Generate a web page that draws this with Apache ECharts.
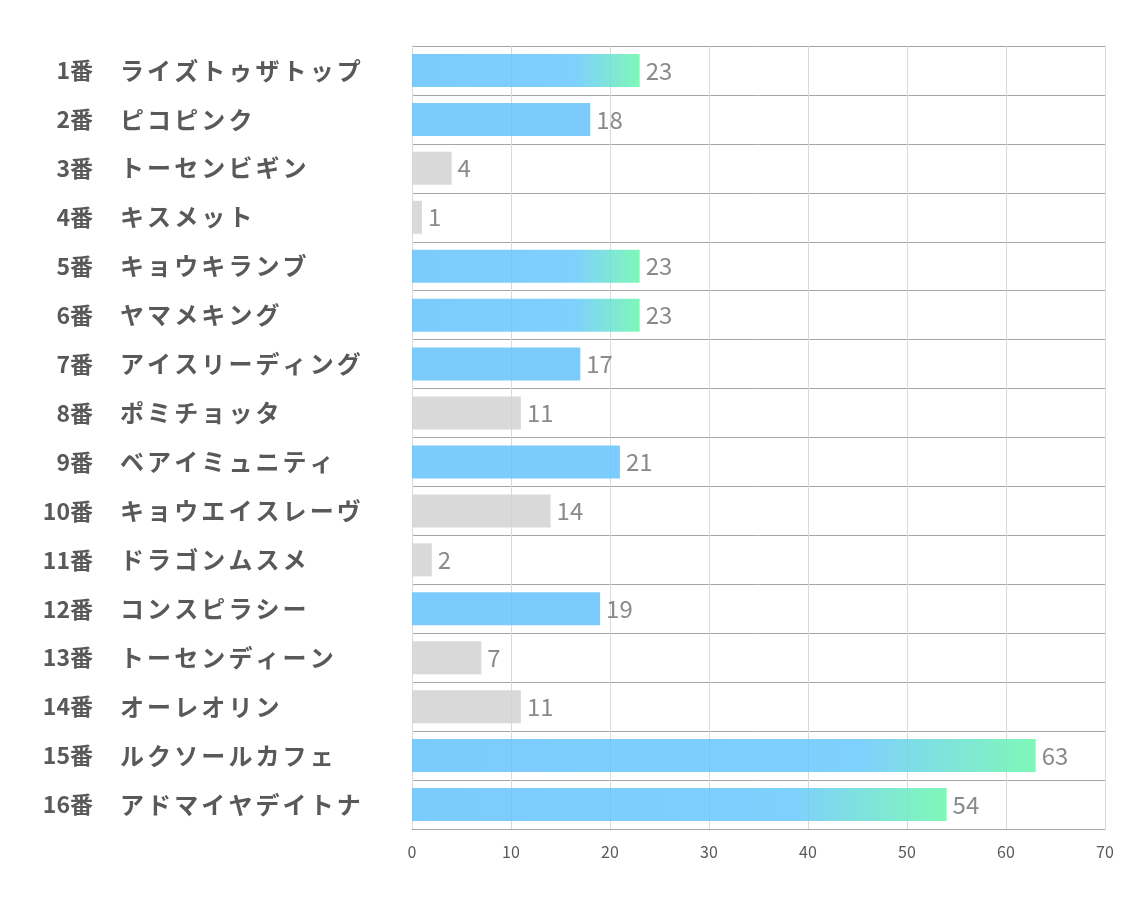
<!DOCTYPE html>
<html><head><meta charset="utf-8">
<script src="https://cdn.jsdelivr.net/npm/echarts@6/dist/echarts.min.js"></script>
<style>html,body{margin:0;padding:0;background:#fff}#c{width:1134px;height:907px}</style>
</head><body><div id="c"></div>
<script>
const numbers = ['1番','2番','3番','4番','5番','6番','7番','8番','9番','10番','11番','12番','13番','14番','15番','16番'];
const names = ['ライズトゥザトップ','ピコピンク','トーセンビギン','キスメット','キョウキランブ','ヤマメキング','アイスリーディング','ポミチョッタ','ベアイミュニティ','キョウエイスレーヴ','ドラゴンムスメ','コンスピラシー','トーセンディーン','オーレオリン','ルクソールカフェ','アドマイヤデイトナ'];
const values = [23,18,4,1,23,23,17,11,21,14,2,19,7,11,63,54];
const xTicks = [0,10,20,30,40,50,60,70];

const FONT = '"Noto Sans CJK JP", "Noto Sans", sans-serif';

function styleFor(v){
  if (v < 15) return {color:'#d2d2d2', opacity:0.85};
  if (v < 22) return {color:'#65c2fd', opacity:0.85};
  return {opacity:0.85, color:{type:'linear',x:0,y:0,x2:1,y2:0,colorStops:[
    {offset:0,color:'#65c2fd'},{offset:0.71,color:'#68c8fd'},{offset:1,color:'#69f6ac'}]}};
}

const chart = echarts.init(document.getElementById('c'));
chart.setOption({
  animation:false,
  grid:{left:412,right:29,top:46,bottom:78,containLabel:false},
  xAxis:{type:'value',min:xTicks[0],max:xTicks[xTicks.length-1],interval:10,
    axisLine:{show:true,lineStyle:{color:'#a6a6a6',width:1}},
    axisTick:{show:false},
    axisLabel:{color:'#595959',fontSize:16,fontFamily:FONT,margin:15},
    splitLine:{show:true,lineStyle:{color:'#d9d9d9',width:1}}},
  yAxis:[{type:'category',data:names,inverse:true,
    axisLine:{show:true,lineStyle:{color:'#d9d9d9'}},
    axisTick:{show:false},
    splitLine:{show:true,lineStyle:{color:'#a6a6a6',width:1}},
    axisLabel:{align:'left',margin:292,
      formatter:function(s){return Array.from(s).map(ch=>'{c|'+ch+'}').join('');},
      rich:{c:{width:27.1,fontSize:24,fontWeight:'bold',color:'#595959',fontFamily:FONT}}}},
   {type:'category',data:numbers,inverse:true,position:'left',
    axisLine:{show:false},axisTick:{show:false},splitLine:{show:false},
    axisLabel:{align:'right',margin:319,fontSize:23,fontWeight:'bold',color:'#595959',fontFamily:FONT}}],
  series:[{type:'bar',barWidth:33,yAxisIndex:0,
    data:values.map(v=>({value:v,itemStyle:styleFor(v)})),
    label:{show:true,position:'right',distance:6,color:'#757575',fontSize:24,fontFamily:FONT}}]
});
</script></body></html>
